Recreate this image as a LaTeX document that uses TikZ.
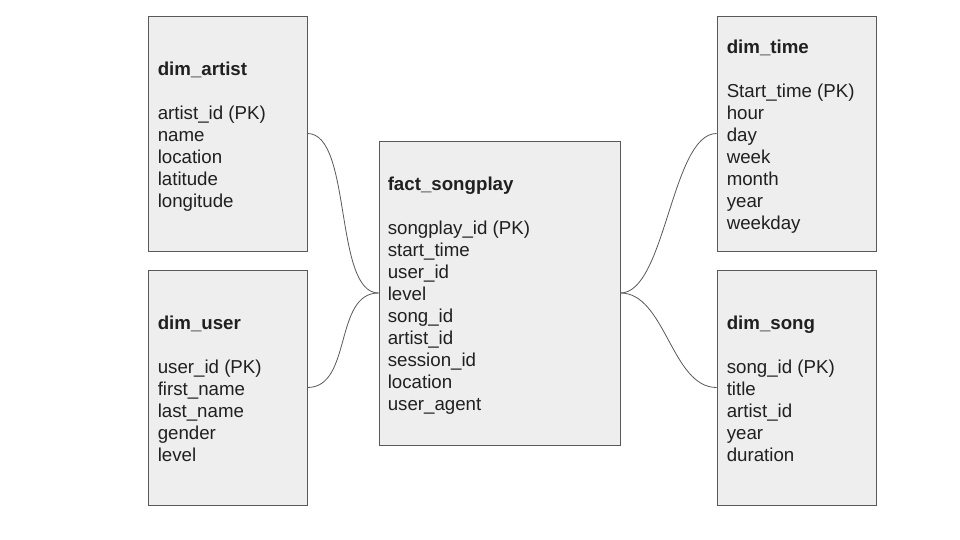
\documentclass[tikz,border=0pt]{standalone}
\usepackage{fontspec}
\setmainfont{Liberation Sans}
\definecolor{boxfill}{HTML}{EEEEEE}
\definecolor{boxline}{HTML}{595959}
\definecolor{ink}{HTML}{202020}
\begin{document}
\begin{tikzpicture}[x=1pt,y=-1pt,
    tbl/.style={draw=boxline,fill=boxfill,line width=0.9pt,inner sep=0,
        minimum width=159pt,minimum height=235pt},
    cols/.style={align=left,inner sep=0,text=ink,
        font=\fontsize{18.7}{22}\selectfont,anchor=west,yshift=-3pt},
    link/.style={draw=boxline,line width=0.8pt}]
    \useasboundingbox[fill=white] (0,0) rectangle (960,540);
    % tables
    \node[tbl] (artist) at (227.5,133.5) {};
    \node[tbl] (user) at (227.5,387.5) {};
    \node[tbl,minimum width=241pt,minimum height=304pt] (songplay) at (499.5,293) {};
    \node[tbl] (time) at (796.5,133.5) {};
    \node[tbl] (song) at (796.5,387.5) {};
    % columns
    \node[cols,xshift=10pt] (artistcols) at (artist.west)
        {\textbf{dim\_artist}\\[22pt]artist\_id (PK)\\name\\location\\latitude\\longitude};
    \node[cols,xshift=10pt,yshift=2pt] (usercols) at (user.west)
        {\textbf{dim\_user}\\[22pt]user\_id (PK)\\first\_name\\last\_name\\gender\\level};
    \node[cols,xshift=9pt] (songplaycols) at (songplay.west)
        {\textbf{fact\_songplay}\\[22pt]songplay\_id (PK)\\start\_time\\user\_id\\level\\song\_id\\artist\_id\\session\_id\\location\\user\_agent};
    \node[cols,xshift=10pt] (timecols) at (time.west)
        {\textbf{dim\_time}\\[22pt]Start\_time (PK)\\hour\\day\\week\\month\\year\\weekday};
    \node[cols,xshift=10pt,yshift=2pt] (songcols) at (song.west)
        {\textbf{dim\_song}\\[22pt]song\_id (PK)\\title\\artist\_id\\year\\duration};
    % links
    \foreach \t in {artist,user}
        \draw[link] (\t.east) .. controls +(45,0) and +(-45,0) .. (songplay.west);
    \foreach \t in {time,song}
        \draw[link] (songplay.east) .. controls +(45,0) and +(-45,0) .. (\t.west);
\end{tikzpicture}
\end{document}
